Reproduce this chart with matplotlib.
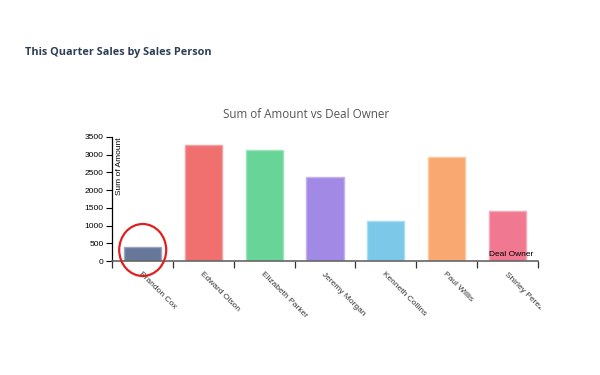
import matplotlib
matplotlib.use("Agg")
import matplotlib.pyplot as plt
from matplotlib.patches import Ellipse
from matplotlib.transforms import Bbox, TransformedBbox

owners = ["Brandon Cox", "Edward Olson", "Elizabeth Parker", "Jeremy Morgan",
          "Kenneth Collins", "Paul Willis", "Shirley Perez"]
amounts = [390, 3280, 3140, 2365, 1125, 2935, 1415]
colors = ["#667799", "#f07070", "#68d498", "#a389e6", "#7cc8e8", "#f8a870", "#f07890"]
edge_colors = ["#9aa6c0", "#f5a0a0", "#9ae4ba", "#c4b2f0", "#a8dcf2", "#fbc8a0", "#f5a8b8"]
yticks = [0, 500, 1000, 1500, 2000, 2500, 3000, 3500]

W, H = 600, 375
fig = plt.figure(figsize=(6, 3.75), dpi=100)
fig.patch.set_facecolor("white")

x0, x1, ytop, ybot = 112, 538, 137, 261
ax = fig.add_axes([x0 / W, 1 - ybot / H, (x1 - x0) / W, (ybot - ytop) / H])
n = len(owners)
pos = [i + 0.5 for i in range(n)]
ax.bar(pos, amounts, width=0.61, color=colors, edgecolor=edge_colors, linewidth=1.0, zorder=2)
ax.set_xlim(0, n)
ax.set_ylim(0, 3500)

for s in ["top", "right"]:
    ax.spines[s].set_visible(False)
ax.spines["left"].set_color("#000000")
ax.spines["left"].set_linewidth(0.9)
ax.spines["bottom"].set_color("#666666")
ax.spines["bottom"].set_linewidth(1.2)

ax.set_yticks(yticks)
ax.set_yticklabels([str(v) for v in yticks], fontsize=6, family="Liberation Sans", color="#000000")
ax.tick_params(axis="y", length=4, width=0.8, pad=2, color="#000000")
ax.set_xticks(range(n + 1))
ax.set_xticklabels([""] * (n + 1))
ax.tick_params(axis="x", length=5, width=0.9, color="#333333")

clip = TransformedBbox(Bbox([[0, 0], [541 / W, 1]]), fig.transFigure)
for p, name in zip(pos, owners):
    t = ax.annotate(name, xy=(p, 0), xycoords="data", xytext=(0, -7), textcoords="offset points",
                    rotation=-45, rotation_mode="anchor", ha="left", va="top",
                    fontsize=6, family="Liberation Sans", color="#333333", annotation_clip=False)
    t.set_clip_box(clip)
    t.set_clip_on(True)

# axis labels inside plot
fig.text(119.5 / W, 1 - 137 / H, "Sum of Amount", rotation=90, ha="center", va="top",
         fontsize=6, family="Liberation Sans", color="#000000")
fig.text(533 / W, 1 - 254 / H, "Deal Owner", ha="right", va="center",
         fontsize=6, family="Liberation Sans", color="#000000")

# chart title
fig.text(306 / W, 1 - 114.5 / H, "Sum of Amount vs Deal Owner", ha="center", va="center",
         fontsize=8.4, family="Open Sans", color="#555555")
# header
fig.text(25 / W, 1 - 53 / H, "This Quarter Sales by Sales Person", ha="left", va="center",
         fontsize=7.8, family="Open Sans", fontweight="bold", color="#2c3e55")

# red highlight circle
circ = Ellipse((142.7 / W, 1 - 250 / H), 2 * 23.5 / W, 2 * 26 / H, transform=fig.transFigure,
               fill=False, edgecolor="#e0201f", linewidth=1.6, zorder=10)
fig.patches.append(circ)

fig.savefig("out.png", dpi=100)
